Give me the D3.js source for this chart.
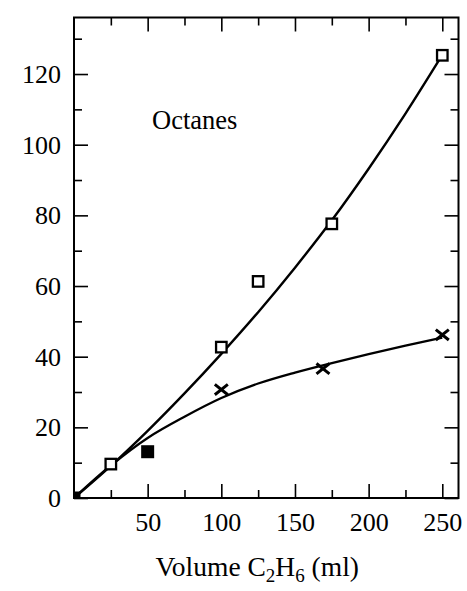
<!DOCTYPE html>
<html>
<head>
<meta charset="utf-8">
<script src="https://cdn.jsdelivr.net/npm/d3@7"></script>
<style>
    body { margin: 0; background: #fff; }
    text { font-family: "Liberation Serif", "DejaVu Serif", serif; fill: #000; }
</style>
</head>
<body>
<div id="chart"></div>
<script>
// values
const openSqX = [25, 100, 125, 175, 250];
const openSqY = [9.6, 42.7, 61.3, 77.6, 125.3];
const filledSqX = [0, 50];
const filledSqY = [0, 13.1];
const crossX = [100, 169, 250];
const crossY = [30.7, 36.6, 46.2];

// the two drawn curves
const upperX = [0, 25, 50, 75, 100, 125, 150, 175, 200, 225, 250];
const upperY = [0, 9.1, 19.0, 29.6, 40.8, 52.6, 65.2, 78.6, 93.2, 108.8, 125.4];
const lowerX = [0, 25, 50, 75, 100, 125, 150, 175, 200, 225, 250];
const lowerY = [0, 9.2, 17.0, 23.0, 28.3, 32.4, 35.5, 38.2, 40.7, 43.1, 45.4];

const xMajor = [50, 100, 150, 200, 250];
const xMinor = [25, 75, 125, 175, 225];
const yMajor = [0, 20, 40, 60, 80, 100, 120];
const yMinor = [10, 30, 50, 70, 90, 110, 130];

let margin = {top: 17.5, right: 8.5, bottom: 93, left: 74};
let width = 467 - margin.left - margin.right;
let height = 591 - margin.top - margin.bottom;

let svg = d3.select("#chart").append("svg")
    .attr("width", 467)
    .attr("height", 591);

let g = svg.append("g")
    .attr("transform", `translate(${margin.left},${margin.top})`);

let x = d3.scaleLinear().domain([0, 261]).range([0, width]);
let y = d3.scaleLinear().domain([0, 136]).range([height, 0]);

g.append("clipPath").attr("id", "plot")
    .append("rect").attr("width", width).attr("height", height);

// axes: ticks point inwards on all four sides
function styleAxis(sel) {
    sel.select(".domain").remove();
    sel.selectAll(".tick line").attr("stroke", "#000").attr("stroke-width", 1.6);
    sel.selectAll(".tick text").style("font-size", "26px").attr("fill", "#000");
}

g.append("g").attr("transform", `translate(0,${height})`)
    .call(d3.axisBottom(x).tickValues(xMajor).tickSize(-14).tickSizeOuter(0).tickPadding(15))
    .call(styleAxis);
g.append("g").attr("transform", `translate(0,${height})`)
    .call(d3.axisBottom(x).tickValues(xMinor).tickSize(-8).tickSizeOuter(0).tickFormat(""))
    .call(styleAxis);
g.append("g")
    .call(d3.axisTop(x).tickValues(xMajor).tickSize(-14).tickSizeOuter(0).tickFormat(""))
    .call(styleAxis);
g.append("g")
    .call(d3.axisTop(x).tickValues(xMinor).tickSize(-8).tickSizeOuter(0).tickFormat(""))
    .call(styleAxis);

g.append("g")
    .call(d3.axisLeft(y).tickValues(yMajor).tickSize(-14).tickSizeOuter(0).tickPadding(13))
    .call(styleAxis);
g.append("g")
    .call(d3.axisLeft(y).tickValues(yMinor).tickSize(-8).tickSizeOuter(0).tickFormat(""))
    .call(styleAxis);
g.append("g").attr("transform", `translate(${width},0)`)
    .call(d3.axisRight(y).tickValues(yMajor).tickSize(-14).tickSizeOuter(0).tickFormat(""))
    .call(styleAxis);
g.append("g").attr("transform", `translate(${width},0)`)
    .call(d3.axisRight(y).tickValues(yMinor).tickSize(-8).tickSizeOuter(0).tickFormat(""))
    .call(styleAxis);

// frame
g.append("rect")
    .attr("width", width).attr("height", height)
    .attr("fill", "none").attr("stroke", "#000").attr("stroke-width", 2);

// curves
let line = d3.line()
    .x(d => x(d[0]))
    .y(d => y(d[1]))
    .curve(d3.curveCatmullRom);

g.append("path")
    .datum(d3.zip(upperX, upperY))
    .attr("d", line)
    .attr("fill", "none").attr("stroke", "#000").attr("stroke-width", 2.4);
g.append("path")
    .datum(d3.zip(lowerX, lowerY))
    .attr("d", line)
    .attr("fill", "none").attr("stroke", "#000").attr("stroke-width", 2.3);

// markers
let sq = 10.5;
g.selectAll(".open-sq")
    .data(d3.zip(openSqX, openSqY))
    .enter().append("rect")
    .attr("class", "open-sq")
    .attr("x", d => x(d[0]) - sq / 2)
    .attr("y", d => y(d[1]) - sq / 2)
    .attr("width", sq).attr("height", sq)
    .attr("fill", "#fff").attr("stroke", "#000").attr("stroke-width", 2.3);

g.append("g").attr("clip-path", "url(#plot)")
    .selectAll(".filled-sq")
    .data(d3.zip(filledSqX, filledSqY))
    .enter().append("rect")
    .attr("class", "filled-sq")
    .attr("x", d => x(d[0]) - 6.5)
    .attr("y", d => y(d[1]) - 6.5)
    .attr("width", 13).attr("height", 13)
    .attr("fill", "#000");

let c = 6.5;
g.selectAll(".cross")
    .data(d3.zip(crossX, crossY))
    .enter().append("path")
    .attr("class", "cross")
    .attr("d", d => {
        let cx = x(d[0]), cy = y(d[1]);
        return `M${cx - c},${cy - c * 0.8}L${cx + c},${cy + c * 0.8}M${cx - c},${cy + c * 0.8}L${cx + c},${cy - c * 0.8}`;
    })
    .attr("stroke", "#000").attr("stroke-width", 3).attr("fill", "none");

// label inside the plot
g.append("text")
    .attr("x", x(53))
    .attr("y", y(104.3))
    .style("font-size", "26.5px")
    .text("Octanes");

// x axis title with subscripts
let title = svg.append("text")
    .attr("x", margin.left + width / 2 - 9)
    .attr("y", 576)
    .attr("text-anchor", "middle")
    .style("font-size", "27.5px");
title.append("tspan").text("Volume C");
title.append("tspan").attr("dy", 6).style("font-size", "19px").text("2");
title.append("tspan").attr("dy", -6).text("H");
title.append("tspan").attr("dy", 6).style("font-size", "19px").text("6");
title.append("tspan").attr("dy", -6).text(" (ml)");
</script>
</body>
</html>
